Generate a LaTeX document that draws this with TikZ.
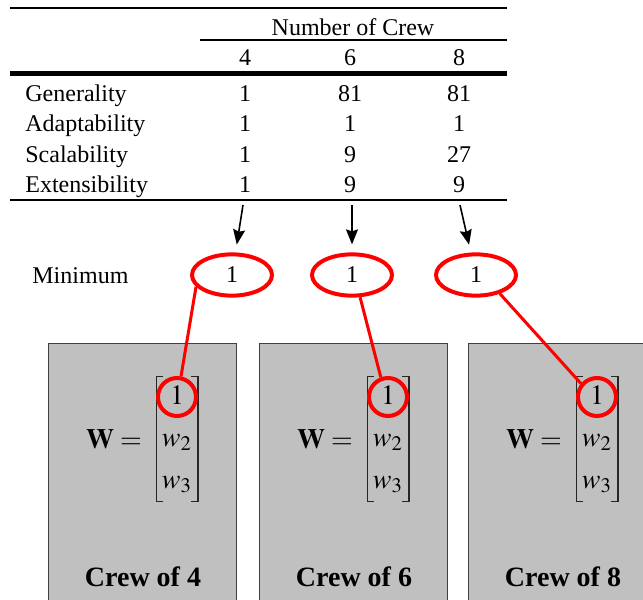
\documentclass[tikz,border=0pt]{standalone}
\usepackage{amsmath}
\usepackage{mathptmx}
\usepackage{fontspec}
\setmainfont{Liberation Serif}
\usetikzlibrary{positioning,shapes,arrows.meta,matrix}
\definecolor{boxgray}{RGB}{192,192,192}

\begin{document}
\begin{tikzpicture}[x=0.5pt, y=-0.5pt,
		tabtext/.style={font=\fontsize{12}{14}\selectfont, inner sep=0pt},
		minell/.style={ellipse, draw=red, line width=2pt, minimum width=40pt, minimum height=15pt, font=\fontsize{12}{14}\selectfont},
		crewbox/.style={draw=black!75, line width=0.6pt, fill=boxgray, minimum width=94pt, minimum height=140pt, anchor=north west},
		pick/.style={circle, draw=red, line width=2pt, minimum size=19pt, inner sep=0pt},
		link/.style={red, line width=1.5pt},
		brack/.style={line width=0.6pt, black!85},
		down/.style={thick, -{Stealth[length=7.5pt, width=6pt, inset=1pt]}, shorten >=4pt}]
		\clip (0,0) rectangle (643,600);
		% table
		\draw[line width=1pt] (10,8) -- (507,8);
		\node[tabtext, anchor=base] (head) at (353,35) {Number of Crew};
		\draw[line width=0.8pt] (200,40) -- (507,40);
		\node[tabtext, anchor=base] (h4) at (245,65) {4};
		\node[tabtext, anchor=base] (h6) at (350,65) {6};
		\node[tabtext, anchor=base] (h8) at (459,65) {8};
		\draw[line width=2.5pt] (10,73) -- (507,73);
		\foreach \name/\a/\b/\c [count=\i] in {Generality/1/81/81, Adaptability/1/1/1, Scalability/1/9/27, Extensibility/1/9/9} {
			\node[tabtext, anchor=base west] (r\i) at (25,71+30.4*\i) {\name};
			\node[tabtext, anchor=base] (r\i a) at (245,71+30.4*\i) {\a};
			\node[tabtext, anchor=base] (r\i b) at (350,71+30.4*\i) {\b};
			\node[tabtext, anchor=base] (r\i c) at (459,71+30.4*\i) {\c};
		}
		\draw[line width=1pt] (10,200) -- (507,200);
		% minimum row
		\node[tabtext, anchor=base west] (minlab) at (32,283) {Minimum};
		\foreach \n/\bx/\ex/\ax/\sa/\ea in {4/48/232/243/198/79, 6/259/352/352/290/110, 8/468/476/460/322/140} {
			\coordinate (top\n) at (\ax,205);
			\node[minell] (min\n) at (\ex,275) {1};
			\draw[down] (top\n) -- (min\n);
			% crew boxes
			\node[crewbox] (box\n) at (\bx,343) {};
			\matrix (w\n) [matrix of math nodes, inner sep=0pt, row sep=1pt,
				nodes={text height=10pt, text depth=3pt, inner xsep=0pt, inner ysep=3.5pt, minimum width=17.5pt, font=\fontsize{14}{16}\selectfont}]
				at (\bx+129,439) {1\\ w_2\\ w_3\\};
			\draw[brack] ([xshift=2pt]w\n.north west) -| ([xshift=-1.5pt]w\n.south west) -- ([xshift=2pt]w\n.south west);
			\draw[brack] ([xshift=-2pt]w\n.north east) -| ([xshift=1.5pt]w\n.south east) -- ([xshift=-2pt]w\n.south east);
			\node[font=\fontsize{14}{16}\selectfont] (eq\n) at (\bx+66,439) {$\mathbf{W}=$};
			\node[pick] (c\n) at (w\n-1-1) {};
			\node[font=\bfseries\fontsize{14}{16}\selectfont] (lab\n) at (\bx+95,577) {Crew of \n};
			\draw[link] (min\n.\sa) -- (c\n.\ea);
		}
	\end{tikzpicture}
\end{document}
